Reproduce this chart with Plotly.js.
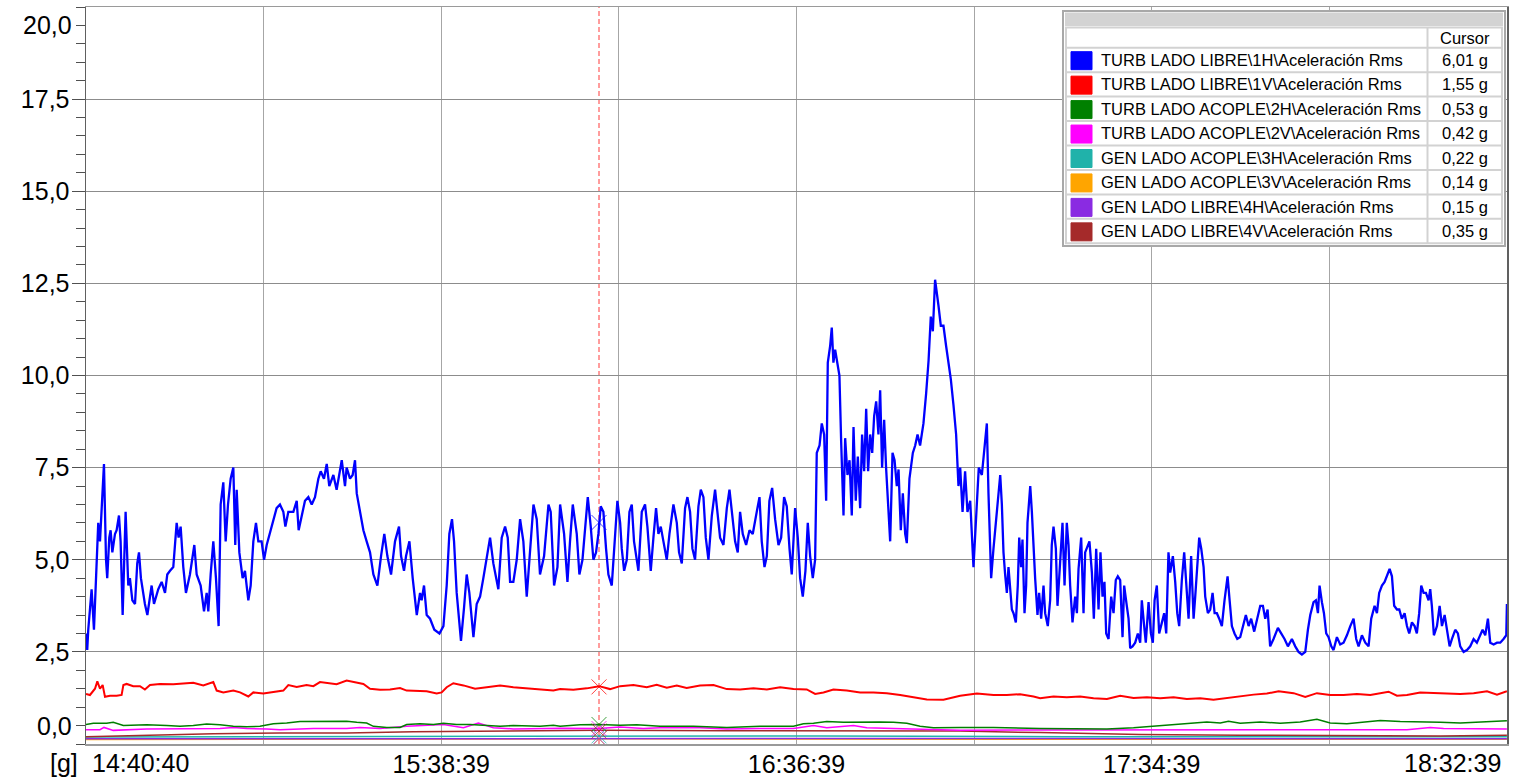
<!DOCTYPE html>
<html>
<head>
<meta charset="utf-8">
<script src="https://cdn.plot.ly/plotly-3.0.1.min.js"></script>
<style>html,body{margin:0;padding:0;background:#fff;}#chart{width:1517px;height:778px;}</style>
</head>
<body>
<div id="chart"></div>
<script>
// ---------- DATA ----------
const dayPrefix = '2000-01-01 ';
const startTime = '14:40:40';
const endTime = '18:32:39';
const gridTimes = ['15:09:39','15:38:39','16:07:39','16:36:39','17:05:39','17:34:39','18:03:39'];
const labeledTimes = ['14:40:40','15:38:39','16:36:39','17:34:39','18:32:39'];
const yTickVals = [2.5, 5, 7.5, 10, 12.5, 15, 17.5];
const yTickText = ['2,5','5,0','7,5','10,0','12,5','15,0','17,5'];
const yEndLabels = [[0.5,'0,0'],[19.5,'20,0']];
const unitLabel = '[g]';
const cursorTime = '16:04:25';

const seriesNames = [
  'TURB LADO LIBRE\\1H\\Aceleración Rms',
  'TURB LADO LIBRE\\1V\\Aceleración Rms',
  'TURB LADO ACOPLE\\2H\\Aceleración Rms',
  'TURB LADO ACOPLE\\2V\\Aceleración Rms',
  'GEN LADO ACOPLE\\3H\\Aceleración Rms',
  'GEN LADO ACOPLE\\3V\\Aceleración Rms',
  'GEN LADO LIBRE\\4H\\Aceleración Rms',
  'GEN LADO LIBRE\\4V\\Aceleración Rms'
];
const seriesColors = ['#0000ff','#ff0000','#008000','#ff00ff','#20b2aa','#ffa500','#8a2be2','#a52a2a'];
const cursorValues = [6.01, 1.55, 0.53, 0.42, 0.22, 0.14, 0.15, 0.35];

// [minutes after 14:40:40, g]
const blue1H = [
[0,3.0],[0.2,2.55],[0.38,3.1],[0.93,4.2],[1.31,3.1],[1.63,4.3],[2.01,6.0],[2.29,5.5],[2.56,6.5],[2.94,7.6],
[3.27,5.0],[3.48,4.5],[3.81,5.6],[4.03,5.8],[4.30,5.2],[4.74,5.7],[5.01,5.8],[5.39,6.2],[5.66,5.5],[5.99,3.5],
[6.48,6.3],[6.91,4.3],[7.18,4.5],[7.57,3.9],[8.00,3.8],[8.38,4.9],[8.65,5.2],[8.98,4.5],[9.63,3.8],[10.02,3.5],
[10.72,4.3],[11.10,3.8],[11.81,4.2],[12.36,4.4],[12.90,4.1],[13.28,4.6],[13.72,4.7],[14.26,4.8],[14.80,6.0],[15.13,5.6],
[15.46,5.9],[15.89,4.8],[16.33,4.1],[16.98,4.6],[17.69,5.4],[18.07,4.6],[18.72,4.3],[19.27,3.6],[19.70,4.1],[19.98,3.6],
[20.36,4.6],[20.79,5.5],[21.23,4.5],[21.66,3.2],[21.99,6.5],[22.43,7.1],[22.81,5.5],[23.19,6.5],[23.62,7.2],[24.06,7.5],
[24.38,5.4],[24.60,6.9],[25.04,5.2],[25.58,4.5],[25.96,4.7],[26.51,3.9],[26.89,4.3],[27.32,5.5],[27.76,6.0],[28.14,5.5],
[28.68,5.5],[29.07,5.0],[29.50,5.4],[30.32,5.9],[31.13,6.4],[31.68,6.5],[32.22,6.3],[32.55,5.9],[33.04,6.3],[33.86,6.3],
[34.40,6.6],[34.73,5.8],[35.22,6.2],[35.76,6.6],[36.31,6.7],[36.85,6.5],[37.39,6.7],[37.94,7.2],[38.32,7.4],[38.86,7.2],
[39.30,7.6],[39.73,7.0],[40.39,7.3],[40.93,6.9],[41.75,7.7],[42.29,7.0],[42.56,7.5],[43.11,7.2],[43.54,7.3],[43.92,7.7],
[44.20,6.8],[44.74,6.3],[45.29,5.8],[45.83,5.5],[46.37,5.2],[46.92,4.6],[47.57,4.3],[48.17,5.1],[48.71,5.7],[49.21,5.1],
[49.80,4.6],[50.46,5.5],[51.11,5.9],[51.44,5.1],[51.93,4.7],[52.25,5.1],[52.80,5.5],[53.34,4.5],[54.00,3.5],[54.54,4.1],
[54.81,3.9],[55.19,4.3],[55.63,3.5],[56.17,3.4],[56.88,3.1],[57.70,3.0],[58.35,3.2],[58.89,4.3],[59.33,5.7],[59.76,6.1],
[60.09,5.5],[60.53,4.1],[61.23,2.8],[61.72,3.7],[62.16,4.6],[62.59,4.1],[63.25,2.9],[63.79,3.8],[64.34,4.0],[64.88,4.5],
[65.42,5.0],[65.97,5.6],[66.51,4.9],[67.33,4.2],[67.87,5.6],[68.42,5.9],[68.85,5.6],[69.24,4.4],[69.78,4.4],[70.32,5.0],
[70.87,6.1],[71.41,5.5],[71.96,4.0],[72.50,5.4],[73.05,6.5],[73.59,6.1],[74.13,4.6],[74.79,5.1],[75.50,6.5],[75.88,6.3],
[76.42,4.3],[76.97,4.8],[77.40,6.5],[78.05,5.7],[78.60,4.4],[79.03,5.5],[79.47,6.5],[80.12,5.7],[80.56,4.6],
[81.05,5.0],[81.48,5.9],[81.92,6.7],[82.41,5.9],[82.84,5.0],[83.28,5.2],[83.66,5.7],[84.04,6.45],[84.48,6.3],[84.91,5.3],
[85.29,4.6],[85.84,4.3],[86.22,5.4],[86.76,6.6],[87.20,6.0],[87.47,5.3],[87.85,4.7],[88.29,5.0],[88.72,6.3],[89.10,6.5],
[89.48,5.5],[90.19,4.7],[90.74,6.3],[91.28,6.5],[91.66,5.9],[92.21,4.7],[92.64,5.6],[93.08,6.4],[93.46,5.7],[93.84,5.9],
[94.27,5.5],[94.82,5.0],[95.25,5.7],[95.91,6.5],[96.45,6.0],[96.83,5.2],[97.27,4.9],[97.81,6.4],[98.19,6.7],[98.63,6.3],
[99.01,5.3],[99.44,5.0],[99.99,6.45],[100.37,6.9],[100.80,6.7],[101.19,5.6],[101.62,5.0],[102.17,6.2],[102.71,6.9],[103.09,6.3],
[103.53,5.6],[104.07,5.4],[104.62,6.4],[105.05,6.9],[105.54,6.1],[105.98,5.5],[106.41,5.2],[106.79,6.3],[107.23,5.7],[107.77,5.4],
[108.32,5.8],[108.86,5.7],[109.51,6.3],[109.95,6.7],[110.33,5.5],[110.77,4.8],[111.15,5.1],[111.58,6.6],[112.02,6.95],[112.51,6.1],
[113.05,5.4],[113.49,5.6],[113.98,6.7],[114.41,6.45],[114.85,5.3],[115.23,4.6],[115.77,6.4],[116.21,5.6],[116.59,4.5],[117.03,4.0],
[117.46,4.7],[117.84,6.0],[118.22,5.1],[118.66,4.5],[119.04,5.0],[119.31,7.9],[119.75,8.1],[120.13,8.7],[120.51,8.4],[120.84,6.6],
[121.11,10.35],[121.49,10.8],[121.76,11.3],[122.03,10.35],[122.31,10.7],[122.58,10.4],[123.01,10.0],[123.29,8.2],[123.67,6.2],[123.94,8.3],
[124.32,7.3],[124.65,7.7],[125.03,6.2],[125.30,8.6],[125.68,6.6],[126.01,7.8],[126.39,6.4],[126.71,8.4],[127.04,7.4],[127.37,9.1],
[127.69,7.4],[128.02,8.4],[128.35,7.9],[128.67,8.9],[129.00,9.3],[129.38,8.4],[129.65,9.6],[129.98,7.5],[130.31,8.8],[130.63,7.5],
[130.96,6.4],[131.29,5.5],[131.67,7.9],[132.00,7.7],[132.38,7.0],[132.65,7.45],[133.03,5.8],[133.36,6.8],[133.74,5.7],[134.01,5.45],
[134.44,7.2],[134.99,7.9],[135.37,8.1],[135.75,8.4],[136.18,8.1],[136.73,8.7],[137.16,9.5],[137.55,10.4],[137.93,11.6],[138.25,11.2],
[138.63,12.6],[138.91,12.3],[139.18,11.9],[139.56,11.35],[139.99,11.35],[140.43,10.8],[140.81,10.4],[141.19,9.9],[141.63,9.2],[142.06,8.4],
[142.44,7.0],[142.72,7.5],[143.10,6.3],[143.53,7.4],[143.91,6.3],[144.35,6.6],[144.89,4.8],[145.33,6.3],[145.76,7.5],[146.25,7.3],
[146.64,7.9],[147.07,8.7],[147.34,6.8],[147.78,4.5],[148.16,5.3],[148.59,6.1],[148.98,7.0],[149.25,7.3],
[149.52,6.5],[149.79,5.2],[150.06,4.6],[150.34,4.1],[150.61,4.8],[150.88,4.3],[151.15,3.65],[151.42,3.55],[151.80,3.3],[152.13,4.3],
[152.35,5.6],[152.68,4.8],[152.89,5.55],[153.22,3.55],[153.49,4.3],[153.71,6.0],[154.15,7.0],[154.42,6.3],[154.69,5.2],[154.96,4.5],
[155.34,3.5],[155.61,4.1],[155.94,3.4],[156.32,4.3],[156.59,3.55],[157.03,3.2],[157.41,3.9],[157.68,5.4],[157.96,5.9],[158.34,5.3],
[158.61,3.75],[159.04,4.8],[159.42,6.0],[159.75,4.3],[160.13,6.0],[160.40,5.4],[160.68,4.3],[161.06,3.3],[161.49,4.0],[161.77,3.55],
[162.04,4.75],[162.47,5.6],[162.85,3.55],[163.13,5.2],[163.51,5.4],[163.83,5.5],[164.22,4.65],[164.54,3.4],[164.92,5.3],[165.30,3.65],
[165.63,5.2],[165.96,4.0],[166.28,4.4],[166.56,3.0],[166.94,2.85],[167.37,4.0],[167.75,3.55],[168.13,4.45],[168.46,4.55],[168.84,4.45],
[169.22,2.9],[169.49,4.3],[169.93,3.75],[170.20,3.4],[170.47,2.6],[170.85,2.65],[171.29,2.75],[171.73,3.0],[172.11,2.75],[172.38,3.9],
[172.76,3.2],[173.03,2.75],[173.47,3.85],[173.85,3.0],[174.17,2.75],[174.45,3.9],[174.83,4.3],[175.21,3.0],[175.65,3.3],[176.03,3.55],
[176.35,3.0],[176.73,5.2],[177.01,4.65],[177.44,5.1],[177.82,4.4],[178.15,3.55],[178.48,3.2],[178.91,4.45],[179.29,5.2],[179.67,4.3],
[180.00,3.4],[180.43,5.1],[180.82,3.4],[181.09,4.0],[181.47,4.8],[181.74,5.6],[182.07,5.3],[182.45,4.8],[182.72,4.0],[183.16,3.55],
[183.54,3.65],[183.92,4.1],[184.25,3.55],[184.63,3.55],[185.01,3.4],[185.44,3.2],[185.88,3.9],[186.37,4.55],[186.70,3.9],[187.08,3.2],
[187.51,3.0],[187.95,2.85],[188.44,2.9],[188.98,3.3],[189.36,3.5],[189.80,3.2],[190.23,3.4],[190.72,3.05],[191.16,3.4],[191.70,3.75],
[192.14,3.75],[192.52,3.4],[192.90,3.65],[193.33,2.65],[193.88,2.85],[194.59,3.15],[195.13,3.0],[195.68,2.85],[196.22,2.65],[196.87,2.85],
[197.42,2.65],[197.96,2.5],[198.51,2.43],[199.05,2.5],[199.49,3.1],[199.87,3.5],[200.41,3.85],[200.79,3.9],[201.12,3.55],[201.39,4.3],
[201.77,3.85],[202.10,3.55],[202.48,3.0],[202.86,2.9],[203.30,2.65],[203.68,2.55],[204.22,2.9],[204.76,2.7],[205.31,2.75],[205.85,2.95],
[206.40,3.2],[206.94,3.4],[207.38,2.85],[207.76,2.65],[208.30,2.95],[208.85,2.75],[209.39,2.65],[209.83,3.4],[210.37,3.75],[210.75,3.55],
[211.13,4.1],[211.57,4.3],[212.00,4.4],[212.38,4.55],[212.82,4.75],[213.20,4.55],[213.58,3.75],[214.02,3.65],[214.40,3.65],[214.83,3.4],
[215.27,3.55],[215.65,3.2],[216.03,3.0],[216.47,3.3],[216.90,3.2],[217.28,3.0],[217.66,3.55],[217.99,4.3],[218.37,4.1],[218.75,4.1],
[219.19,3.9],[219.46,4.2],[219.73,3.75],[220.06,2.95],[220.55,3.2],[220.99,3.75],[221.37,3.2],[221.80,3.5],[222.18,3.1],[222.62,2.65],
[223.00,2.85],[223.54,3.1],[223.98,3.0],[224.36,2.65],[224.90,2.5],[225.45,2.55],[225.99,2.65],[226.54,2.85],[227.08,2.75],[227.63,2.95],
[228.01,3.1],[228.44,2.95],[228.88,3.4],[229.26,2.75],[229.80,2.7],[230.35,2.75],[230.89,2.75],[231.43,2.85],[231.87,2.95],[231.98,3.8]
];

const red1V = [
[0,1.36],[0.65,1.33],[1.47,1.5],[1.85,1.7],[2.29,1.5],[2.72,1.6],[3.10,1.28],[3.92,1.31],[5.01,1.31],[5.82,1.33],
[6.10,1.6],[6.64,1.63],[7.73,1.57],[8.82,1.57],[9.63,1.48],[10.45,1.6],[12.08,1.63],[14.26,1.62],[15.89,1.64],[17.53,1.66],
[19.16,1.59],[20.79,1.68],[21.34,1.45],[22.43,1.4],[24.06,1.45],[25.15,1.4],[26.51,1.29],[27.32,1.4],[28.96,1.37],[30.59,1.4],
[32.22,1.45],[33.04,1.6],[34.40,1.55],[36.03,1.6],[37.12,1.57],[38.21,1.68],[39.84,1.64],[40.93,1.62],[42.56,1.72],[44.20,1.66],
[45.29,1.63],[46.37,1.5],[48.01,1.47],[49.64,1.48],[51.27,1.52],[52.36,1.45],[54.00,1.43],[55.63,1.43],[57.26,1.37],[58.08,1.4],
[58.89,1.54],[59.98,1.65],[61.62,1.59],[63.52,1.5],[65.42,1.54],[67.60,1.59],[69.78,1.54],[71.96,1.51],[74.13,1.5],[76.31,1.45],
[77.40,1.49],[79.58,1.47],[81.75,1.51],[83.77,1.57],[85.56,1.49],[87.20,1.57],[89.37,1.6],[91.55,1.54],[93.18,1.61],[94.82,1.53],
[96.45,1.59],[98.08,1.52],[100.26,1.59],[102.44,1.6],[104.62,1.49],[106.79,1.48],[108.97,1.51],[111.15,1.48],[113.32,1.54],[115.50,1.49],
[117.68,1.48],[119.04,1.36],[120.40,1.4],[122.03,1.48],[124.21,1.45],[126.39,1.4],[128.56,1.4],[130.74,1.38],[132.92,1.33],[135.10,1.26],
[137.27,1.21],[139.99,1.2],[142.72,1.31],[145.44,1.37],[148.16,1.33],[150.34,1.33],[152.51,1.35],[154.69,1.29],[155.78,1.24],[157.96,1.29],
[160.13,1.27],[162.31,1.29],[164.49,1.24],[166.67,1.22],[168.84,1.31],[171.02,1.25],[173.20,1.27],[175.37,1.24],[177.55,1.27],[179.73,1.22],
[181.91,1.24],[184.08,1.2],[186.26,1.25],[188.44,1.31],[190.62,1.34],[192.79,1.37],[194.70,1.43],[197.15,1.38],[199.05,1.28],[200.96,1.38],
[203.13,1.33],[205.31,1.33],[207.49,1.36],[209.67,1.33],[211.30,1.38],[212.66,1.42],[214.02,1.31],[215.65,1.33],[217.83,1.4],[220.01,1.38],
[222.18,1.38],[224.36,1.36],[226.54,1.38],[228.72,1.43],[230.35,1.34],[231.71,1.4],[231.98,1.43]
];

const green2H = [
[0,0.53],[1.20,0.56],[3.37,0.56],[4.46,0.59],[6.10,0.5],[7.73,0.51],[9.91,0.52],[13.17,0.5],[15.35,0.48],[17.53,0.5],
[19.70,0.54],[21.88,0.52],[24.06,0.48],[26.24,0.47],[28.41,0.48],[30.59,0.55],[32.77,0.57],[34.94,0.61],[37.12,0.61],[39.30,0.6],
[42.56,0.62],[44.20,0.59],[45.83,0.57],[46.92,0.48],[49.10,0.45],[51.27,0.45],[52.36,0.53],[54.54,0.55],[56.72,0.53],[58.35,0.56],
[60.53,0.53],[62.70,0.53],[64.88,0.51],[67.60,0.48],[69.78,0.5],[71.96,0.48],[74.13,0.48],[76.31,0.51],[77.40,0.48],[80.67,0.52],
[83.77,0.53],[87.20,0.51],[89.92,0.52],[93.73,0.48],[99.17,0.48],[104.62,0.45],[110.06,0.48],[115.50,0.48],[117.13,0.55],[118.77,0.56],
[120.94,0.61],[123.67,0.59],[126.39,0.6],[129.65,0.6],[131.83,0.59],[134.01,0.56],[136.18,0.48],[138.36,0.44],[142.72,0.45],[148.16,0.45],
[155.78,0.42],[161.22,0.42],[166.67,0.41],[171.02,0.44],[173.74,0.48],[177.55,0.53],[180.82,0.57],[182.99,0.6],[185.17,0.57],[186.53,0.62],
[188.44,0.56],[191.70,0.6],[194.97,0.56],[198.23,0.6],[200.96,0.67],[203.13,0.57],[205.86,0.55],[208.58,0.59],[211.30,0.64],[214.56,0.61],
[217.83,0.61],[221.10,0.59],[224.36,0.57],[228.17,0.59],[231.98,0.63]
];

const magenta2V = [
[0,0.39],[2.29,0.39],[2.94,0.45],[4.46,0.37],[9.91,0.41],[15.35,0.41],[19.70,0.42],[21.88,0.42],[24.06,0.45],[26.24,0.42],
[29.50,0.41],[31.68,0.39],[37.12,0.42],[42.56,0.42],[44.74,0.45],[48.01,0.42],[52.36,0.48],[55.63,0.51],[58.35,0.53],[61.62,0.44],
[64.06,0.57],[66.51,0.44],[69.78,0.41],[75.22,0.42],[77.40,0.43],[83.77,0.42],[87.20,0.46],[91.01,0.42],[93.73,0.44],[100.26,0.44],
[104.62,0.41],[110.06,0.42],[115.50,0.42],[118.77,0.5],[120.94,0.44],[125.30,0.5],[127.48,0.44],[131.83,0.42],[137.27,0.39],[142.72,0.37],
[155.78,0.38],[172.11,0.38],[188.44,0.39],[204.77,0.39],[215.65,0.39],[219.46,0.45],[221.64,0.42],[231.98,0.41]
];

const cyan3H = [[0,0.19],[40,0.2],[83.77,0.22],[120,0.22],[160,0.2],[200,0.2],[231.98,0.2]];
const orange3V = [[0,0.12],[83.77,0.14],[160,0.13],[231.98,0.13]];
const purple4H = [[0,0.14],[83.77,0.15],[160,0.15],[231.98,0.14]];
const brown4V = [
[0,0.2],[9.91,0.24],[20.79,0.28],[31.68,0.3],[42.56,0.3],[53.45,0.33],[64.34,0.35],[77.40,0.36],[83.77,0.37],[104.62,0.36],
[120.94,0.36],[131.83,0.35],[142.72,0.35],[155.78,0.31],[172.11,0.26],[188.44,0.24],[204.77,0.22],[221.10,0.22],[231.98,0.24]
];

const seriesData = [blue1H, red1V, green2H, magenta2V, cyan3H, orange3V, purple4H, brown4V];
const lineWidths = [2.3, 2, 1.5, 1.5, 1.5, 1.5, 1.5, 1.5];
const drawOrder = [5, 6, 4, 7, 3, 2, 1, 0];

// ---------- HELPERS ----------
const t0 = Date.UTC(2000, 0, 1, 14, 40, 40);
function minToDate(m) {
  return new Date(t0 + Math.round(m * 60000)).toISOString().slice(0, 19).replace('T', ' ');
}
const FONT = 'Liberation Sans, Arial, sans-serif';
const AXFONT = 25;
const LEGFONT = 16.5;

// plot-area geometry in pixels (style)
const L = 86, R = 1507, T = 7, B = 744;
const W = R - L, H = B - T;
const px = p => (p - L) / W;
const py = p => (B - p) / H;

// ---------- TRACES ----------
const traces = drawOrder.map(i => ({
  type: 'scatter', mode: 'lines', name: seriesNames[i],
  x: seriesData[i].map(d => minToDate(d[0])),
  y: seriesData[i].map(d => d[1]),
  line: {color: seriesColors[i], width: lineWidths[i]},
  showlegend: false, hoverinfo: 'skip'
}));
traces.push({
  type: 'scatter', mode: 'markers',
  x: cursorValues.map(() => dayPrefix + cursorTime),
  y: cursorValues,
  marker: {symbol: 'x-thin-open', size: 15, color: seriesColors, opacity: 0.75,
           line: {width: 1, color: seriesColors}},
  showlegend: false, hoverinfo: 'skip'
});

// ---------- LEGEND TABLE (shapes + annotations) ----------
const shapes = [];
const annotations = [];

shapes.push({type: 'line', xref: 'x', yref: 'paper', x0: dayPrefix + cursorTime, x1: dayPrefix + cursorTime,
  y0: 0, y1: 1, line: {color: '#ff3b3b', width: 1, dash: '5px,3px'}, layer: 'below'});

const boxL = 1063, boxR = 1505, boxT = 11, boxB = 246;
shapes.push({type: 'rect', xref: 'paper', yref: 'paper', x0: px(boxL), x1: px(boxR), y0: py(boxB), y1: py(boxT),
  fillcolor: '#ffffff', line: {color: '#a8a8a8', width: 2}, layer: 'above'});
shapes.push({type: 'rect', xref: 'paper', yref: 'paper', x0: px(boxL + 2), x1: px(boxR - 2), y0: py(26), y1: py(boxT + 1.5),
  fillcolor: '#d3d3d3', line: {width: 0}, layer: 'above'});
const tabL = 1066, tabR = 1502, tabT = 27.5, colX = 1427.5, headB = 47.7, rowH = 24.45;
const nRows = seriesNames.length;
const tabB = headB + nRows * rowH;
const gridLine = {color: '#d2d2d2', width: 2};
shapes.push({type: 'rect', xref: 'paper', yref: 'paper', x0: px(tabL), x1: px(tabR), y0: py(tabB), y1: py(tabT),
  fillcolor: 'rgba(0,0,0,0)', line: gridLine, layer: 'above'});
shapes.push({type: 'line', xref: 'paper', yref: 'paper', x0: px(colX), x1: px(colX), y0: py(tabB), y1: py(tabT),
  line: gridLine, layer: 'above'});
for (let k = 0; k < nRows; k++) {
  const yl = headB + k * rowH;
  shapes.push({type: 'line', xref: 'paper', yref: 'paper', x0: px(tabL), x1: px(tabR), y0: py(yl), y1: py(yl),
    line: gridLine, layer: 'above'});
}
annotations.push({xref: 'paper', yref: 'paper', x: px((colX + tabR) / 2), y: py((tabT + headB) / 2),
  xanchor: 'center', yanchor: 'middle', text: 'Cursor', showarrow: false,
  font: {family: FONT, size: LEGFONT, color: '#000'}});
seriesNames.forEach((name, i) => {
  const top = headB + i * rowH;
  shapes.push({type: 'rect', xref: 'paper', yref: 'paper', x0: px(1071), x1: px(1092), y0: py(top + 22), y1: py(top + 4),
    fillcolor: seriesColors[i], line: {color: seriesColors[i], width: 1}, layer: 'above'});
  annotations.push({xref: 'paper', yref: 'paper', x: px(1099), y: py(top + rowH / 2),
    xanchor: 'left', yanchor: 'middle', text: name, showarrow: false,
    font: {family: FONT, size: LEGFONT, color: '#000'}});
  annotations.push({xref: 'paper', yref: 'paper', x: px((colX + tabR) / 2), y: py(top + rowH / 2),
    xanchor: 'center', yanchor: 'middle', text: cursorValues[i].toFixed(2).replace('.', ',') + ' g', showarrow: false,
    font: {family: FONT, size: LEGFONT, color: '#000'}});
});

// ---------- AXIS END LABELS ----------
yEndLabels.forEach(([v, txt]) => {
  annotations.push({xref: 'paper', yref: 'y', x: 0, y: v, xanchor: 'right', yanchor: 'middle', xshift: -12,
    text: txt, showarrow: false, font: {family: FONT, size: AXFONT, color: '#000'}});
});
annotations.push({xref: 'paper', yref: 'paper', x: px(80), y: py(763), xanchor: 'right', yanchor: 'middle',
  text: unitLabel, showarrow: false, font: {family: FONT, size: AXFONT, color: '#000'}});
annotations.push({xref: 'paper', yref: 'paper', x: px(90), y: py(763), xanchor: 'left', yanchor: 'middle',
  text: labeledTimes[0], showarrow: false, font: {family: FONT, size: AXFONT, color: '#000'}});
annotations.push({xref: 'paper', yref: 'paper', x: px(1503), y: py(763), xanchor: 'right', yanchor: 'middle',
  text: labeledTimes[labeledTimes.length - 1], showarrow: false, font: {family: FONT, size: AXFONT, color: '#000'}});

// ---------- LAYOUT ----------
const layout = {
  width: 1517, height: 778,
  margin: {l: L, r: 1517 - R, t: T, b: 778 - B},
  paper_bgcolor: '#ffffff', plot_bgcolor: '#ffffff',
  font: {family: FONT, color: '#000'},
  showlegend: false,
  xaxis: {
    type: 'date',
    range: [dayPrefix + startTime, dayPrefix + endTime],
    tickmode: 'array',
    tickvals: gridTimes.map(t => dayPrefix + t),
    ticktext: gridTimes.map(t => labeledTimes.includes(t) ? t : ''),
    tickfont: {family: FONT, size: AXFONT, color: '#000'},
    ticks: '', ticklen: 0, ticklabelstandoff: -3,
    showgrid: true, gridcolor: '#a6a6a6', gridwidth: 1,
    showline: true, linecolor: '#9a9a9a', linewidth: 1.5, mirror: true,
    zeroline: false, fixedrange: true
  },
  yaxis: {
    range: [0, 20],
    tickmode: 'array',
    tickvals: yTickVals, ticktext: yTickText,
    tickfont: {family: FONT, size: AXFONT, color: '#000'},
    ticks: 'outside', ticklen: 13, tickcolor: '#505050', tickwidth: 1,
    ticklabelstandoff: -3,
    minor: {tickmode: 'linear', tick0: 0, dtick: 0.5, ticks: 'outside', ticklen: 9, tickcolor: '#505050', tickwidth: 1, showgrid: false},
    showgrid: true, gridcolor: '#8c8c8c', gridwidth: 1,
    showline: true, linecolor: '#606060', linewidth: 1.5, mirror: true,
    zeroline: false, fixedrange: true
  },
  shapes: shapes,
  annotations: annotations
};

Plotly.newPlot('chart', traces, layout, {displayModeBar: false, staticPlot: true});
</script>
</body>
</html>
